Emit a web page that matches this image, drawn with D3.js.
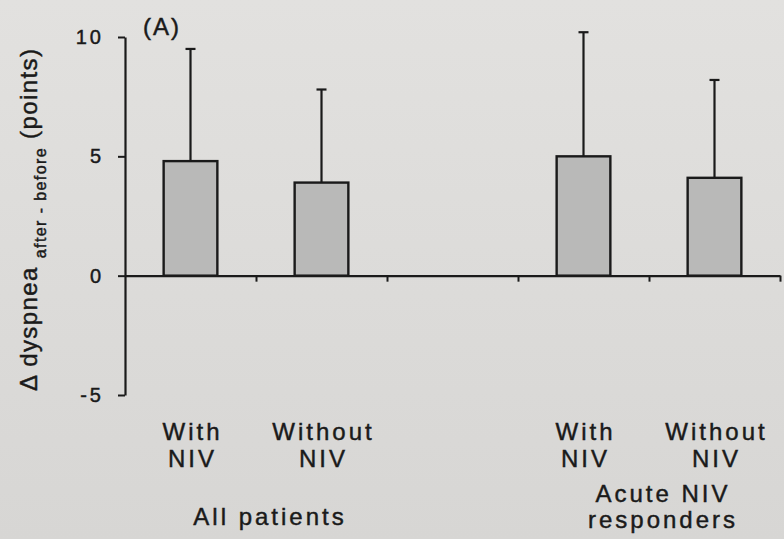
<!DOCTYPE html>
<html>
<head>
<meta charset="utf-8">
<script src="https://cdn.jsdelivr.net/npm/d3@7"></script>
<style>
  html, body { margin: 0; padding: 0; background: #dddcda; }
  svg { display: block; }
  text { font-family: "Liberation Sans", Arial, sans-serif; fill: #1a1a1a; stroke: #1a1a1a; stroke-width: 0.45px; }
</style>
</head>
<body>
<svg id="chart" width="784" height="539"></svg>
<script>
// ---- data ----
const categories = ["All-With", "All-Without", "gap", "Acute-With", "Acute-Without"];
const categoryLines1 = ["With", "Without", "", "With", "Without"];
const categoryLines2 = ["NIV", "NIV", "", "NIV", "NIV"];
const means = [4.8, 3.9, null, 5.0, 4.1];
const sds = [4.7, 3.9, null, 5.2, 4.1];
const groupLabels = [["All patients"], ["Acute NIV", "responders"]];
const groupMembers = [["All-With", "All-Without"], ["Acute-With", "Acute-Without"]];
const yTicks = [-5, 0, 5, 10];
const panelLabel = "(A)";

// ---- layout ----
const svg = d3.select("#chart");
const W = 784, H = 539;
const x0 = 125, x1 = 780, yTop = 37, yBot = 395;
const ink = "#1a1a1a";

const defs = svg.append("defs");
const grad = defs.append("linearGradient").attr("id", "paper")
  .attr("x1", 0).attr("y1", 0).attr("x2", 0).attr("y2", 1);
grad.append("stop").attr("offset", 0).attr("stop-color", "#e2e1df");
grad.append("stop").attr("offset", 1).attr("stop-color", "#d7d6d4");
svg.append("rect").attr("width", W).attr("height", H).attr("fill", "url(#paper)");

const y = d3.scaleLinear().domain([-5, 10]).range([yBot, yTop]);
const x = d3.scaleBand().domain(categories).range([x0, x1])
  .paddingInner(0.59).paddingOuter(0.295);
const xb = d3.scaleLinear().domain([0, categories.length]).range([x0, x1]);

// bars
const data = categories.map((c, i) => ({ c, m: means[i], s: sds[i] })).filter(d => d.m != null);

svg.append("g").selectAll("rect").data(data).join("rect")
  .attr("x", d => x(d.c))
  .attr("y", d => y(d.m))
  .attr("width", x.bandwidth())
  .attr("height", d => y(0) - y(d.m))
  .attr("fill", "#b9b9b8")
  .attr("stroke", ink)
  .attr("stroke-width", 2.4);

// error bars
const eb = svg.append("g").attr("stroke", ink).attr("stroke-width", 2.2);
eb.selectAll("line.v").data(data).join("line").attr("class", "v")
  .attr("x1", d => x(d.c) + x.bandwidth() / 2).attr("x2", d => x(d.c) + x.bandwidth() / 2)
  .attr("y1", d => y(d.m)).attr("y2", d => y(d.m + d.s));
eb.selectAll("line.cap").data(data).join("line").attr("class", "cap")
  .attr("x1", d => x(d.c) + x.bandwidth() / 2 - 5).attr("x2", d => x(d.c) + x.bandwidth() / 2 + 5)
  .attr("y1", d => y(d.m + d.s)).attr("y2", d => y(d.m + d.s));

// y axis
const yAxis = svg.append("g").attr("transform", `translate(${x0},0)`)
  .call(d3.axisLeft(y).tickValues(yTicks).tickFormat(d => String(d))
    .tickSize(7).tickSizeOuter(0).tickPadding(14));
yAxis.select(".domain").attr("stroke", ink).attr("stroke-width", 2.2);
yAxis.selectAll(".tick line").attr("stroke", ink).attr("stroke-width", 2);
yAxis.selectAll(".tick text").attr("font-size", 20).attr("letter-spacing", 3)
  .attr("font-family", "'Liberation Sans', Arial, sans-serif").attr("fill", ink);

// x axis (ticks at category boundaries)
const xAxis = svg.append("g").attr("transform", `translate(0,${y(0)})`)
  .call(d3.axisBottom(xb).tickValues(d3.range(1, categories.length + 1)).tickFormat("").tickSize(6).tickSizeOuter(0));
xAxis.select(".domain").attr("stroke", ink).attr("stroke-width", 2.2);
xAxis.selectAll(".tick line").attr("stroke", ink).attr("stroke-width", 2);

// category labels
const cl = svg.append("g").attr("font-size", 24).attr("letter-spacing", 3).attr("text-anchor", "middle");
categories.forEach((c, i) => {
  const cx = x(c) + x.bandwidth() / 2 + 2;
  cl.append("text").attr("x", cx).attr("y", 440).text(categoryLines1[i]);
  cl.append("text").attr("x", cx).attr("y", 467).text(categoryLines2[i]);
});

// group labels
const gl = svg.append("g").attr("font-size", 24).attr("letter-spacing", 3).attr("text-anchor", "middle");
groupLabels.forEach((lines, gi) => {
  const mem = groupMembers[gi];
  const cx = (x(mem[0]) + x(mem[mem.length - 1]) + x.bandwidth()) / 2 + 14;
  const startY = lines.length === 1 ? 525 : 502;
  lines.forEach((t, li) => {
    gl.append("text").attr("x", cx).attr("y", startY + li * 26).text(t);
  });
});

// y axis title
const yt = svg.append("text")
  .attr("transform", "translate(37,391) rotate(-90)")
  .attr("font-size", 24).attr("letter-spacing", 1.4);
yt.append("tspan").text("Δ dyspnea ");
yt.append("tspan").attr("font-size", 16).attr("dy", 9).text("after - before");
yt.append("tspan").attr("dy", -9).text(" (points)");

// panel label
svg.append("text").attr("x", 162).attr("y", 35).attr("text-anchor", "middle")
  .attr("font-size", 24).attr("letter-spacing", 2).text(panelLabel);
</script>
</body>
</html>
